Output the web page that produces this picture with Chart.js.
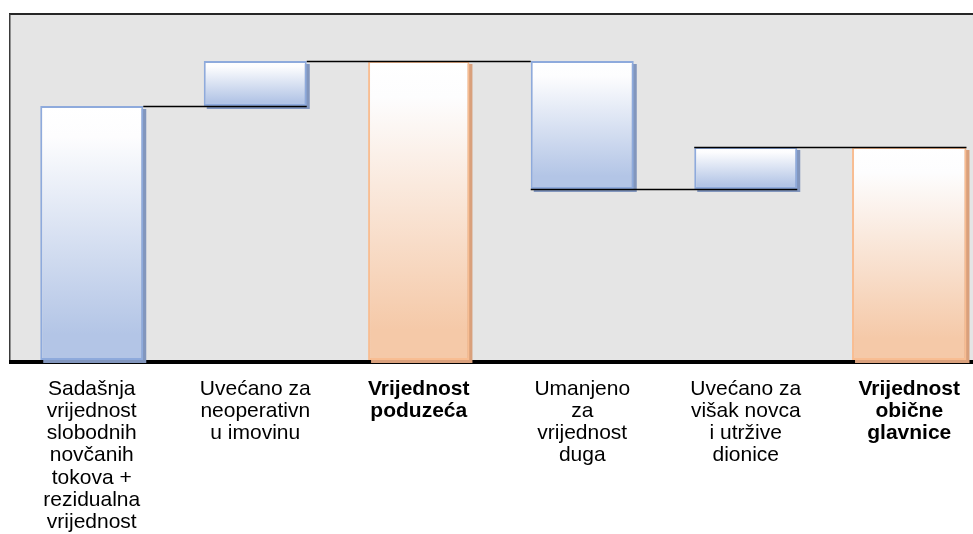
<!DOCTYPE html>
<html>
<head>
<meta charset="utf-8">
<script src="https://cdn.jsdelivr.net/npm/chart.js@4"></script>
<style>
  html, body { margin: 0; padding: 0; background: #ffffff; overflow: hidden; }
  #wrap { width: 1000px; height: 534px; }
</style>
</head>
<body>
<div id="wrap"><canvas id="chart"></canvas></div>
<script>
// Waterfall steps (arbitrary units)
const categories = [
  ['Sadašnja', 'vrijednost', 'slobodnih', 'novčanih', 'tokova +', 'rezidualna', 'vrijednost'],
  ['Uvećano za', 'neoperativn', 'u imovinu'],
  ['Vrijednost', 'poduzeća'],
  ['Umanjeno', 'za', 'vrijednost', 'duga'],
  ['Uvećano za', 'višak novca', 'i utržive', 'dionice'],
  ['Vrijednost', 'obične', 'glavnice']
];
const stepValues = [254, 45, 299, -128, 42, 213];
const isTotal = [false, false, true, false, false, true];
const yMax = 346;

// connectors: [fromBar, fromSide, toBar, toSide], drawn at the running total after fromBar
const connectors = [
  [0, 'right', 1, 'right'],
  [1, 'right', 3, 'left'],
  [3, 'left', 4, 'right'],
  [4, 'left', 5, 'right']
];

// build floating ranges from running totals
const ranges = [];
const levels = [];
let running = 0;
stepValues.forEach((v, i) => {
  if (isTotal[i]) {
    ranges.push([0, v]);
    running = v;
  } else {
    ranges.push([Math.min(running, running + v), Math.max(running, running + v)]);
    running += v;
  }
  levels.push(running);
});

const blueData = ranges.map((r, i) => isTotal[i] ? null : r);
const orangeData = ranges.map((r, i) => (isTotal[i] && i !== 5) ? r : null);
const lastData = ranges.map((r, i) => i === 5 ? r : null);

function gradientFill(bottomColor) {
  return (ctx) => {
    const chart = ctx.chart;
    const raw = ctx.raw;
    if (!chart.chartArea || !raw) return bottomColor;
    const y = chart.scales.y;
    const top = y.getPixelForValue(raw[1]);
    const bot = y.getPixelForValue(raw[0]);
    const g = chart.ctx.createLinearGradient(0, top, 0, bot);
    g.addColorStop(0, '#ffffff');
    g.addColorStop(0.12, '#fdfdfe');
    g.addColorStop(0.9, bottomColor);
    g.addColorStop(1, bottomColor);
    return g;
  };
}

const framePlugin = {
  id: 'frame',
  beforeDatasetsDraw(chart) {
    const { ctx, chartArea: a, width } = chart;
    ctx.save();
    ctx.fillStyle = '#e5e5e5';
    ctx.fillRect(a.left, a.top, width - a.left, a.bottom - a.top);
    ctx.fillStyle = '#262626';
    ctx.fillRect(a.left - 1, a.top - 1, width, 2);
    ctx.fillStyle = '#3a3a3a';
    ctx.fillRect(a.left - 1, a.top, 1.5, a.bottom - a.top);
    ctx.fillStyle = '#000000';
    ctx.fillRect(a.left - 1, a.bottom, width, 4);
    // bar shadows
    chart.data.datasets.forEach((ds, di) => {
      const meta = chart.getDatasetMeta(di);
      meta.data.forEach((bar, i) => {
        if (!ds.data[i]) return;
        const p = bar.getProps(['x', 'y', 'base', 'width'], true);
        ctx.fillStyle = ds.shadowColor;
        ctx.fillRect(p.x - p.width / 2 + 3, Math.min(p.y, p.base) + 3, p.width, Math.abs(p.base - p.y));
      });
    });
    ctx.restore();
  },
  afterDatasetsDraw(chart) {
    const { ctx } = chart;
    const y = chart.scales.y;
    const barAt = (i) => {
      for (let di = 0; di < chart.data.datasets.length; di++) {
        if (chart.data.datasets[di].data[i]) return chart.getDatasetMeta(di).data[i];
      }
      return null;
    };
    ctx.save();
    ctx.strokeStyle = '#000000';
    ctx.lineWidth = 1.5;
    connectors.forEach(([from, fromSide, to, toSide]) => {
      const b1 = barAt(from), b2 = barAt(to);
      const x1 = fromSide === 'right' ? b1.x + b1.width / 2 : b1.x - b1.width / 2;
      const x2 = toSide === 'right' ? b2.x + b2.width / 2 : b2.x - b2.width / 2;
      const py = Math.round(y.getPixelForValue(levels[from])) + 0.5;
      ctx.beginPath();
      ctx.moveTo(x1, py);
      ctx.lineTo(x2, py);
      ctx.stroke();
    });
    ctx.restore();
  }
};

const ctx = document.getElementById('chart').getContext('2d');
new Chart(ctx, {
  type: 'bar',
  data: {
    labels: categories,
    datasets: [
      {
        data: blueData,
        backgroundColor: gradientFill('#b3c5e6'),
        borderColor: '#8eaadc',
        shadowColor: '#8296bd',
        borderWidth: 2,
        borderSkipped: false,
        grouped: false,
        barPercentage: 0.63,
        categoryPercentage: 1
      },
      {
        data: orangeData,
        backgroundColor: gradientFill('#f5c9a8'),
        borderColor: '#f8bd92',
        shadowColor: '#d9a07c',
        borderWidth: 2,
        borderSkipped: false,
        grouped: false,
        barPercentage: 0.62,
        categoryPercentage: 1
      },
      {
        data: lastData,
        backgroundColor: gradientFill('#f5c9a8'),
        borderColor: '#f8bd92',
        shadowColor: '#d9a07c',
        borderWidth: 2,
        borderSkipped: false,
        grouped: false,
        barPercentage: 0.70,
        categoryPercentage: 1
      }
    ]
  },
  options: {
    responsive: true,
    maintainAspectRatio: false,
    animation: false,
    layout: { padding: { left: 10, right: 9, top: 14, bottom: 0 } },
    plugins: {
      legend: { display: false },
      tooltip: { enabled: false }
    },
    scales: {
      x: {
        grid: { display: false, drawTicks: false },
        border: { display: false },
        afterFit: (scale) => { scale.height = 174; },
        ticks: {
          color: '#000000',
          padding: 18,
          maxRotation: 0,
          autoSkip: false,
          font: (c) => ({
            family: '"Liberation Sans", Arial, sans-serif',
            size: 21,
            lineHeight: '22.2px',
            weight: isTotal[c.index] ? 'bold' : 'normal'
          })
        }
      },
      y: { display: false, min: 0, max: yMax }
    }
  },
  plugins: [framePlugin]
});
</script>
</body>
</html>
